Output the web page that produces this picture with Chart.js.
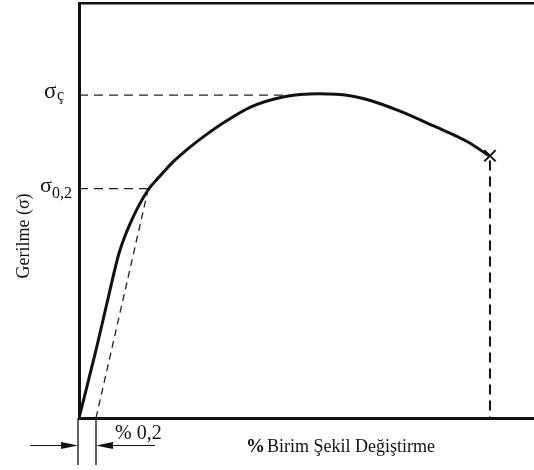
<!DOCTYPE html>
<html>
<head>
<meta charset="utf-8">
<script src="https://cdn.jsdelivr.net/npm/chart.js@4.4.1/dist/chart.umd.min.js"></script>
<style>
  html, body { margin: 0; padding: 0; background: #fff; }
  canvas { display: block; }
</style>
</head>
<body>
<canvas id="c" width="534" height="470"></canvas>
<script>
// ---- data (strain in %, stress in arbitrary units, σç = 100) ----
const strain = [0, 0.2, 0.353, 0.471, 0.6, 0.812, 0.953, 1.106, 1.306, 1.506, 1.741, 2.012, 2.4, 2.835, 3.188, 3.388, 3.776, 4.165, 4.565, 4.824];
const stress = [0, 21, 38.3, 51, 60.1, 70.6, 74.9, 79.3, 83.9, 87.9, 92.1, 96.2, 99.4, 100.4, 99.8, 98.6, 95.0, 90.5, 85.6, 81.2];
const offsetLineStrain = [0.2, 0.812];
const offsetLineStress = [0, 70.6];
const sigmaC = 100;
const sigma02 = 71;
const sigmaCEndStrain = 2.62;
const yieldStrain = 0.81;
const offsetStrain = 0.2;
const fractureStrain = 4.835;
const fractureStress = 81.2;
const xMax = 5.353;
const yMax = 128.5;
const yTickLabels = [{ v: sigmaC, main: 'σ', sub: 'ç' }, { v: sigma02, main: 'σ', sub: '0,2' }];
const yTitle = 'Gerilme (σ)';
const xTitlePct = '%';
const xTitle = 'Birim Şekil Değiştirme';
const offsetLabel = '% 0,2';

const pts = (xs, ys) => xs.map((x, i) => ({ x, y: ys[i] }));
const serif = '"Liberation Serif", "DejaVu Serif", serif';

const annot = {
  id: 'annot',
  afterDraw(chart) {
    const ctx = chart.ctx;
    const xs = chart.scales.x, ys = chart.scales.y;
    ctx.save();
    ctx.fillStyle = '#111';
    ctx.strokeStyle = '#111';
    // y tick labels with subscripts
    const yc = ys.getPixelForValue(sigmaC);
    ctx.textBaseline = 'alphabetic';
    ctx.textAlign = 'left';
    ctx.font = '23px ' + serif;
    ctx.fillText(yTickLabels[0].main, 44, yc + 3);
    ctx.font = '16px ' + serif;
    ctx.fillText(yTickLabels[0].sub, 57, yc + 5);
    const y02 = ys.getPixelForValue(sigma02);
    ctx.font = '22px ' + serif;
    ctx.fillText(yTickLabels[1].main, 40, y02 + 3.5);
    ctx.font = '16px ' + serif;
    ctx.fillText(yTickLabels[1].sub, 52, y02 + 9.5);
    // y title
    ctx.save();
    ctx.translate(24, 236);
    ctx.rotate(-Math.PI / 2);
    ctx.textAlign = 'center';
    ctx.textBaseline = 'middle';
    ctx.font = '18px ' + serif;
    ctx.fillText(yTitle, 0, 0);
    ctx.restore();
    // x title
    ctx.font = 'bold 19px ' + serif;
    ctx.fillText(xTitlePct, 246, 452);
    ctx.font = '18px ' + serif;
    ctx.fillText(xTitle, 267, 452);
    // offset dimension
    const x0 = xs.getPixelForValue(0) - 1;
    const x1 = xs.getPixelForValue(offsetStrain);
    const yb = ys.getPixelForValue(0);
    ctx.lineWidth = 1.3;
    ctx.beginPath();
    ctx.moveTo(x0, yb); ctx.lineTo(x0, 465);
    ctx.moveTo(x1, yb); ctx.lineTo(x1, 465);
    ctx.stroke();
    const ya = 445.5;
    ctx.lineWidth = 1;
    ctx.beginPath();
    ctx.moveTo(30, ya); ctx.lineTo(x0 - 16, ya);
    ctx.moveTo(x1 + 16, ya); ctx.lineTo(155, ya);
    ctx.stroke();
    ctx.beginPath();
    ctx.moveTo(x0, ya); ctx.lineTo(x0 - 17, ya - 3.5); ctx.lineTo(x0 - 17, ya + 3.5); ctx.closePath();
    ctx.moveTo(x1, ya); ctx.lineTo(x1 + 17, ya - 3.5); ctx.lineTo(x1 + 17, ya + 3.5); ctx.closePath();
    ctx.fill();
    ctx.font = '20px ' + serif;
    ctx.fillText(offsetLabel, 115, 439);
    ctx.restore();
  }
};

new Chart(document.getElementById('c'), {
  type: 'scatter',
  data: {
    datasets: [
      { data: pts(strain, stress), showLine: true, borderColor: '#111', borderWidth: 3, pointRadius: 0, cubicInterpolationMode: 'monotone' },
      { data: pts(offsetLineStrain, offsetLineStress), showLine: true, borderColor: '#222', borderWidth: 1.3, borderDash: [7, 5], pointRadius: 0 },
      { data: pts([0, yieldStrain], [sigma02, sigma02]), showLine: true, borderColor: '#222', borderWidth: 1.3, borderDash: [9, 6], pointRadius: 0 },
      { data: pts([0, sigmaCEndStrain], [sigmaC, sigmaC]), showLine: true, borderColor: '#222', borderWidth: 1.3, borderDash: [9, 6], pointRadius: 0 },
      { data: pts([fractureStrain, fractureStrain], [fractureStress - 1.5, 0]), showLine: true, borderColor: '#111', borderWidth: 2, borderDash: [10, 6], pointRadius: 0 },
      { data: pts([fractureStrain], [fractureStress]), showLine: false, pointStyle: 'crossRot', pointRadius: 8, borderColor: '#111', borderWidth: 2 }
    ]
  },
  options: {
    responsive: false,
    animation: false,
    devicePixelRatio: 1,
    layout: { padding: 0, autoPadding: false },
    plugins: { legend: { display: false }, tooltip: { enabled: false } },
    scales: {
      x: {
        type: 'linear', position: 'bottom', min: 0, max: xMax,
        ticks: { display: false }, grid: { display: false, drawTicks: false },
        border: { display: true, width: 3, color: '#111' },
        afterFit: s => { s.height = 52; }
      },
      x2: {
        type: 'linear', position: 'top', min: 0, max: xMax,
        ticks: { display: false }, grid: { display: false, drawTicks: false },
        border: { display: true, width: 2.5, color: '#111' },
        afterFit: s => { s.height = 3; }
      },
      y: {
        type: 'linear', position: 'left', min: 0, max: yMax,
        ticks: { display: false }, grid: { display: false, drawTicks: false },
        border: { display: true, width: 3, color: '#111' },
        afterFit: s => { s.width = 79; }
      }
    }
  },
  plugins: [annot]
});
</script>
</body>
</html>
